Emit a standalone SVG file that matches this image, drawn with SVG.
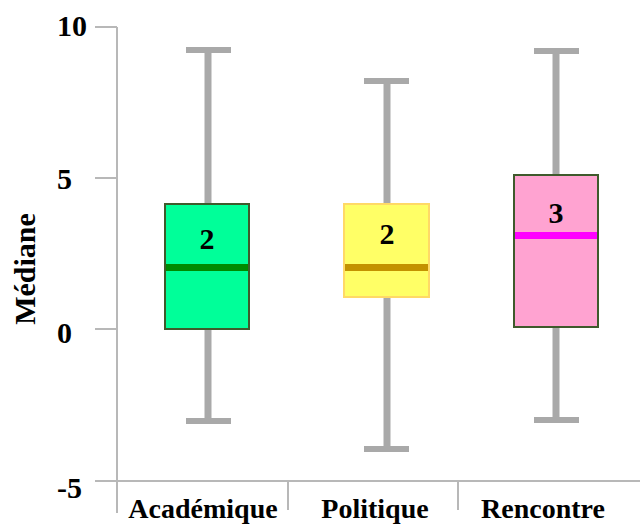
<svg xmlns="http://www.w3.org/2000/svg" width="640" height="524" viewBox="0 0 640 524">
<style>
.axis{stroke:#b8b8b8;stroke-width:2;fill:none}
.whisk{stroke:#a9a9a9;stroke-width:7;fill:none}
.cap{stroke:#a9a9a9;stroke-width:6;fill:none}
.tick{font-family:"Liberation Serif",serif;font-weight:bold;font-size:30px;fill:#000}
.cat{font-family:"Liberation Serif",serif;font-weight:bold;font-size:28px;fill:#000;text-anchor:middle}
.val{font-family:"Liberation Serif",serif;font-weight:bold;font-size:30px;fill:#000;text-anchor:middle}
</style>
<rect width="640" height="524" fill="#fff"/>
<g id="axes">
<line class="axis" x1="117" y1="27" x2="117" y2="513"/>
<line class="axis" x1="95" y1="481" x2="640" y2="481"/>
<line class="axis" x1="95" y1="27" x2="117" y2="27"/>
<line class="axis" x1="95" y1="178" x2="117" y2="178"/>
<line class="axis" x1="95" y1="329" x2="117" y2="329"/>
<line class="axis" x1="288" y1="481" x2="288" y2="510"/>
<line class="axis" x1="458" y1="481" x2="458" y2="510"/>
<text class="tick" x="57" y="36">10</text>
<text class="tick" x="57" y="189">5</text>
<text class="tick" x="57" y="343">0</text>
<text class="tick" x="57" y="498">-5</text>
<text class="cat" x="203" y="518">Académique</text>
<text class="cat" x="375" y="518">Politique</text>
<text class="cat" x="543" y="518">Rencontre</text>
<text class="tick" transform="translate(35,269) rotate(-90)" text-anchor="middle">Médiane</text>
</g>
<g id="academique">
<line class="whisk" x1="208" y1="50" x2="208" y2="421"/>
<line class="cap" x1="186" y1="50" x2="231" y2="50"/>
<line class="cap" x1="186" y1="421" x2="231" y2="421"/>
<rect x="165" y="204" width="84" height="125" fill="#00ff99" stroke="#3f5a2c" stroke-width="2"/>
<line x1="166" y1="267.5" x2="248" y2="267.5" stroke="#008a00" stroke-width="7"/>
<text class="val" x="207" y="249">2</text>
</g>
<g id="politique">
<line class="whisk" x1="387" y1="81" x2="387" y2="449"/>
<line class="cap" x1="364" y1="81" x2="409" y2="81"/>
<line class="cap" x1="364" y1="449" x2="409" y2="449"/>
<rect x="344" y="204" width="85" height="93" fill="#ffff66" stroke="#ffd966" stroke-width="2"/>
<line x1="345" y1="267.5" x2="428" y2="267.5" stroke="#c39200" stroke-width="7"/>
<text class="val" x="387" y="244">2</text>
</g>
<g id="rencontre">
<line class="whisk" x1="556" y1="51" x2="556" y2="420"/>
<line class="cap" x1="534" y1="51" x2="579" y2="51"/>
<line class="cap" x1="534" y1="420" x2="579" y2="420"/>
<rect x="514" y="175" width="84" height="152" fill="#ffa3d1" stroke="#3f5a2c" stroke-width="2"/>
<line x1="515" y1="235.5" x2="597" y2="235.5" stroke="#ff00ff" stroke-width="7"/>
<text class="val" x="556" y="223">3</text>
</g>
<g id="connectors"></g>
</svg>
